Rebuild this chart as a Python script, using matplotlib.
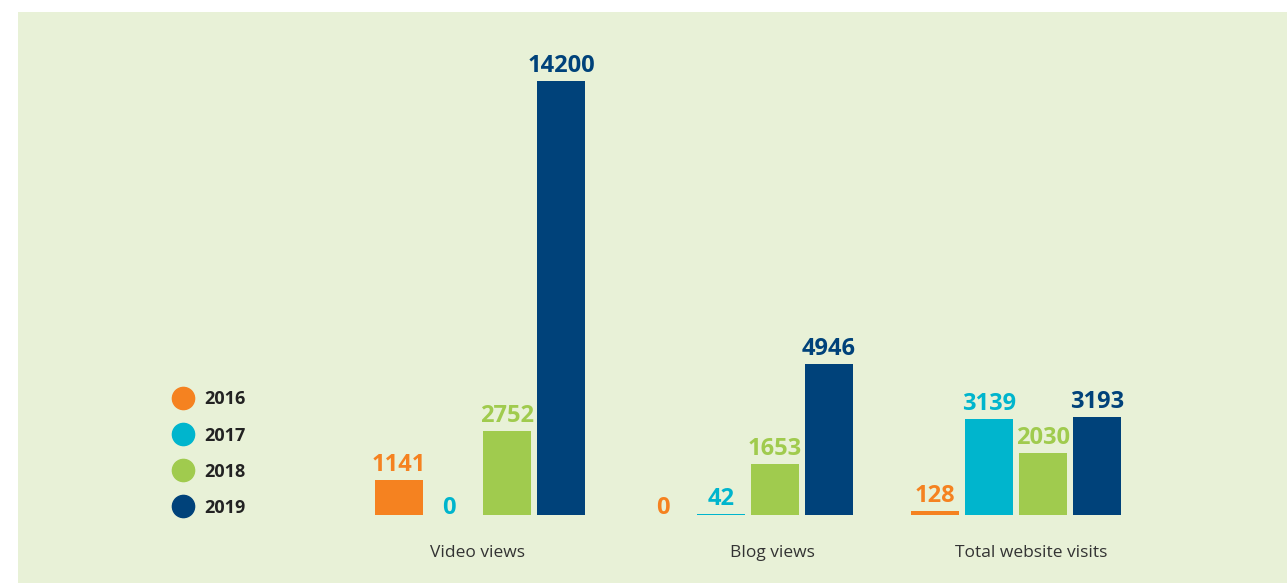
import numpy as np
from matplotlib import pyplot as plt
from matplotlib.lines import Line2D

# data
categories = ["Video views", "Blog views", "Total website visits"]
years = ["2016", "2017", "2018", "2019"]
v2016 = [1141, 0, 128]
v2017 = [0, 42, 3139]
v2018 = [2752, 1653, 2030]
v2019 = [14200, 4946, 3193]

colors = ["#f58220", "#00b5cd", "#a0cb4e", "#00427a"]
bg = "#e8f1d7"

plt.rcParams['font.family'] = ['Open Sans', 'DejaVu Sans']

fig = plt.figure(figsize=(12.87, 5.83), dpi=100)
ax = fig.add_axes([18 / 1287, 0, 1269 / 1287, 571 / 583])
ax.set_facecolor(bg)

group_gap = 4.963
centers = np.arange(len(categories)) * group_gap
series = [v2016, v2017, v2018, v2019]
offsets = [-1.5, -0.5, 0.5, 1.5]

for vals, off, col, yr in zip(series, offsets, colors, years):
    bars = ax.bar(centers + off, vals, width=0.905, color=col, label=yr)
    for b, v in zip(bars, vals):
        # zero labels sit a touch lower and to the left in the original
        shift = (0, 3) if v else (-4, -5)
        ax.annotate(str(v), (b.get_x() + b.get_width() / 2, v),
                    xytext=shift, textcoords='offset pixels',
                    ha='center', va='bottom', color=col,
                    fontsize=17, fontweight='bold')

ax.set_xlim(-8.556, 14.944)
ax.set_ylim(-2225, 16457)

# category labels sit a little off the group centres in the original
label_shift = [-0.04, 0.46, 0.28]
for c, s, name in zip(centers, label_shift, categories):
    ax.text(c + s, -1230, name, ha='center', va='center',
            fontsize=12.5, color='#333333')

ax.set_xticks([])
ax.set_yticks([])
for sp in ax.spines.values():
    sp.set_visible(False)

handles = [Line2D([0], [0], marker='o', linestyle='none', markersize=16,
                  markerfacecolor=c, markeredgecolor=c) for c in colors]
fig.legend(handles, years, loc='center left', bbox_to_anchor=(0.1257, 0.222),
           frameon=False, borderpad=0, handlelength=1.4, handletextpad=0.45,
           labelspacing=1.0, prop={'size': 13, 'weight': 'bold'},
           labelcolor='#222222')

fig.savefig("out.png", dpi=100)
